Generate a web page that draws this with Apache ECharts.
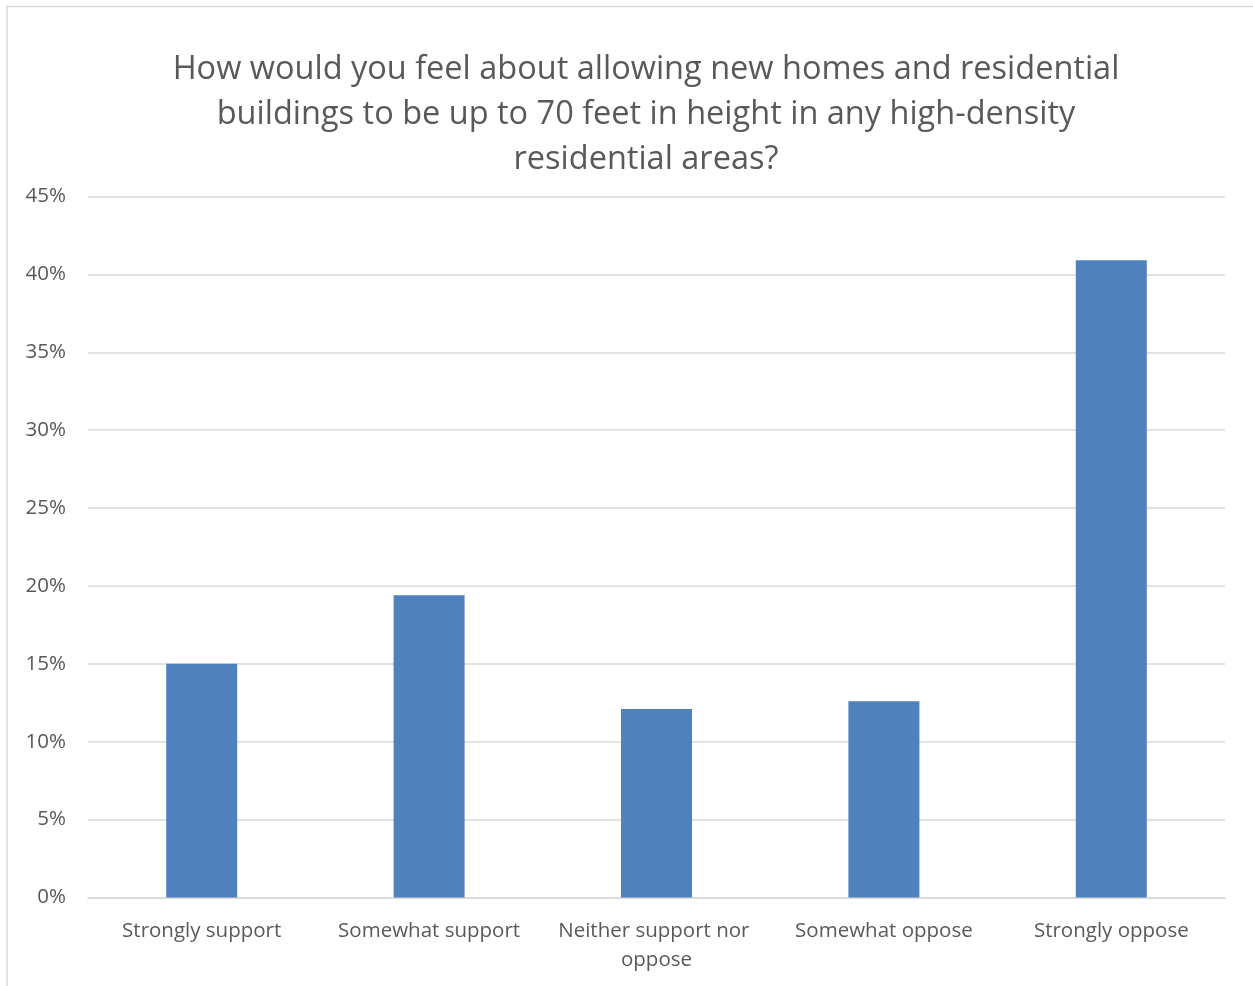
<!DOCTYPE html>
<html>
<head>
<meta charset="utf-8">
<style>
html,body{margin:0;padding:0;background:#fff;}
#chart{width:1253px;height:986px;}
</style>
<script src="https://cdn.jsdelivr.net/npm/echarts@6/dist/echarts.min.js"></script>
</head>
<body>
<div id="chart"></div>
<script>
const titleText = "How would you feel about allowing new homes and residential\nbuildings to be up to 70 feet in height in any high-density\nresidential areas?";
const categories = ["Strongly support", "Somewhat support", "Neither support nor oppose", "Somewhat oppose", "Strongly oppose"];
const values = [15.0, 19.4, 12.1, 12.6, 40.9];
const yTicks = [0, 5, 10, 15, 20, 25, 30, 35, 40, 45];

const chart = echarts.init(document.getElementById('chart'), null, {renderer: 'canvas'});
const FONT = 'Open Sans';
chart.setOption({
  animation: false,
  backgroundColor: '#ffffff',
  graphic: [{
    type: 'rect',
    shape: {x: 7, y: 6.5, width: 1260, height: 1000},
    style: {fill: 'none', stroke: '#D9D9D9', lineWidth: 1.5},
    silent: true
  }, {
    type: 'text',
    x: 646,
    y: 47,
    style: {
      text: titleText,
      fontFamily: FONT,
      fontSize: 32.5,
      fill: '#595959',
      lineHeight: 45,
      align: 'center',
      verticalAlign: 'top'
    },
    silent: true
  }],
  grid: {left: 88, right: 28, top: 196.5, bottom: 88.5, containLabel: false},
  xAxis: {
    type: 'category',
    data: categories,
    axisLine: {lineStyle: {color: '#D9D9D9', width: 1.5}},
    axisTick: {show: false},
    axisLabel: {
      fontFamily: FONT,
      fontSize: 20.5,
      color: '#595959',
      margin: 19,
      lineHeight: 29,
      width: 215,
      overflow: 'break',
      interval: 0
    }
  },
  yAxis: {
    type: 'value',
    min: yTicks[0],
    max: yTicks[yTicks.length - 1],
    interval: 5,
    axisLine: {show: false},
    axisTick: {show: false},
    splitLine: {lineStyle: {color: '#D9D9D9', width: 1.5}},
    axisLabel: {
      fontFamily: FONT,
      fontSize: 20.5,
      color: '#595959',
      margin: 22,
      formatter: v => v + '%'
    }
  },
  series: [{
    type: 'bar',
    data: values,
    barWidth: 71,
    itemStyle: {color: '#4F81BD'}
  }]
});
</script>
</body>
</html>
